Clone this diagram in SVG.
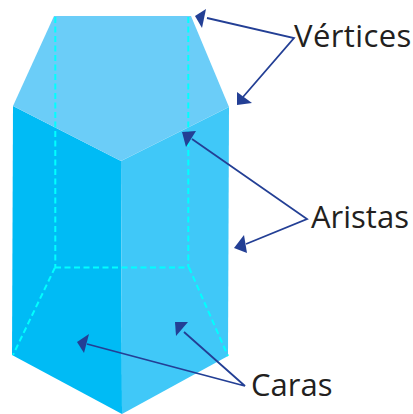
<svg xmlns="http://www.w3.org/2000/svg" width="413" height="414" viewBox="0 0 413 414">
<defs>
<style>
.dash{fill:none;stroke:#00ffff;stroke-width:2;stroke-dasharray:6 3.5}
.arrow{fill:none;stroke:#233f95;stroke-width:1.8}
.head{fill:#233f95}
.label{font-family:"Open Sans","Liberation Sans",sans-serif;font-size:31px;fill:#231f20}
</style>
</defs>
<rect width="413" height="414" fill="#ffffff"/>
<g id="prism">
<polygon id="face-left" points="13,106 121,161 122,414 12,355" fill="#00bbf5"/>
<polygon id="face-right" points="121,161 229,107 228,356 122,414" fill="#40c8f8"/>
<polygon id="face-top" points="54,16 191,16 229,107 121,161 13,106" fill="#6bcdf8"/>
<path class="dash" d="M55.300,17V267M188.300,17V267M55,267.500H189M55,267.500L13,355M189,267.500L228,356"/>
</g>
<g id="connectors">
<path class="arrow" d="M207,18L294,38L243,97"/>
<polygon class="head" points="195,16 206,9 202,28"/>
<polygon class="head" points="237,105 237,92 252,103"/>
<path class="arrow" d="M192,139L307,219L246,244"/>
<polygon class="head" points="182,132 196,131 186,147"/>
<polygon class="head" points="234,248 244,235 247,253"/>
<path class="arrow" d="M87,344L245,386L184,332"/>
<polygon class="head" points="77,342 89,334 84,353"/>
<polygon class="head" points="175,322 188,322 176,336"/>
</g>
<g id="label-vertices"><text class="label" x="294" y="47" letter-spacing="0.4">Vértices</text></g>
<g id="label-aristas"><text class="label" x="311" y="228">Aristas</text></g>
<g id="label-caras"><text class="label" x="251" y="396">Caras</text></g>
</svg>
